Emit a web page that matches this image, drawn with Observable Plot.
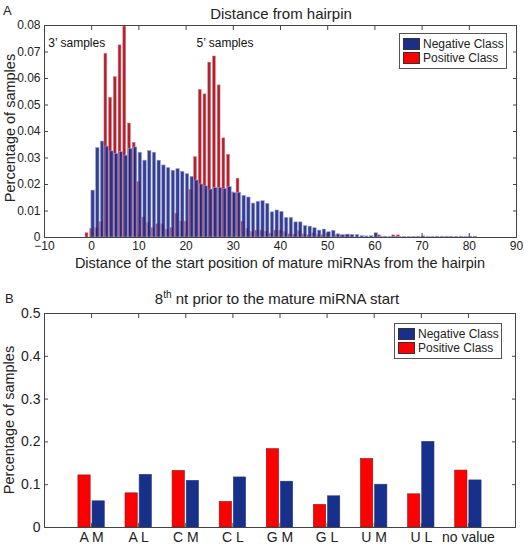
<!DOCTYPE html>
<html>
<head>
<meta charset="utf-8">
<script src="https://cdn.jsdelivr.net/npm/d3@7"></script>
<script src="https://cdn.jsdelivr.net/npm/@observablehq/plot@0.6"></script>
<style>
  body { margin: 0; background: #fff; font-family: "Liberation Sans", Arial, sans-serif; color: #222; }
  #root { position: relative; width: 524px; height: 545px; overflow: hidden; }
  .abs { position: absolute; white-space: nowrap; line-height: 1; }
  .legend { position: absolute; border: 1px solid #555; background: #fff; font-size: 12px; }
  .legend .row { position: absolute; left: 3px; height: 13px; display: flex; align-items: center; }
  .legend .sw { width: 17px; height: 12px; box-sizing: border-box; border: 1px solid #333; margin-right: 3px; }
  svg { position: absolute; left: 0; }
</style>
</head>
<body>
<div id="root"></div>
<script>
// ---------- Panel A data ----------
const posStart = -1; // first bin of the positive class
const posValues = [0.0016, 0.0033, 0.0035, 0.0058, 0.0693, 0.0527, 0.0605, 0.0725, 0.0796, 0.043,
  0.0357, 0.0209, 0.0075, 0.0055, 0.0035, 0.005, 0.005, 0.003, 0.0035, 0.009,
  0.006, 0.006, 0.018, 0.0303, 0.0557, 0.054, 0.066, 0.0683, 0.0574, 0.0374,
  0.0312, 0.017, 0.0222, 0.006, 0.0033, 0.002, 0.0026, 0.0026, 0.0022, 0.0015,
  0.0026, 0.0026, 0.002, 0.0012, 0.001, 0.0024, 0.0012, 0.0008, 0.0016, 0.0008,
  0.0008, 0.0016, 0, 0.0008, 0.0008, 0.0008, 0.0008, 0, 0, 0,
  0, 0, 0.0008, 0, 0, 0.0008, 0.0008];
const negStart = 0;
const negValues = [0.0177, 0.0337, 0.0362, 0.0343, 0.0325, 0.0316, 0.0322, 0.0309, 0.0335, 0.034,
  0.032, 0.029, 0.0326, 0.032, 0.029, 0.0272, 0.0262, 0.0252, 0.0258, 0.0248,
  0.0239, 0.0229, 0.0215, 0.02, 0.0193, 0.0181, 0.0187, 0.0187, 0.0184, 0.0191,
  0.0167, 0.0169, 0.0157, 0.0151, 0.0128, 0.0135, 0.0137, 0.0127, 0.0095, 0.0102,
  0.0097, 0.0074, 0.0074, 0.0057, 0.0057, 0.0043, 0.0041, 0.0035, 0.0026, 0.003,
  0.002, 0.0025, 0.0012, 0.0009, 0.0011, 0.001, 0.001, 0.0005, 0.0004, 0.0005,
  0.0016, 0.0003, 0.0003, 0.0002, 0.0003, 0.0002, 0.0002, 0.0002, 0.0002, 0.0003,
  0.0004, 0.0002, 0.0002, 0.0003, 0.0003, 0.0003, 0.0003, 0.0002, 0.0003, 0.0002,
  0.0003, 0.0003, 0];
const xTicksA = [-10, 0, 10, 20, 30, 40, 50, 60, 70, 80, 90];
const yTicksA = [0, 0.01, 0.02, 0.03, 0.04, 0.05, 0.06, 0.07, 0.08];
const annoText = ["3\u2019 samples", "5\u2019 samples"];
const annoX = [-9.2, 22.2];
const annoY = [0.0732, 0.0732];

// ---------- Panel B data ----------
const categories = ["A M", "A L", "C M", "C L", "G M", "G L", "U M", "U L", "no value"];
const posB = [0.1217, 0.0798, 0.132, 0.0597, 0.183, 0.0527, 0.160, 0.0775, 0.133];
const negB = [0.0612, 0.123, 0.109, 0.117, 0.107, 0.0729, 0.100, 0.200, 0.110];
const yTicksB = [0, 0.1, 0.2, 0.3, 0.4, 0.5];

const seriesNames = ["Negative Class", "Positive Class"];

// ---------- build tables ----------
const posA = posValues.map((v, i) => ({x: posStart + i, v}));
const negA = negValues.map((v, i) => ({x: negStart + i, v}));
const barsB = categories.flatMap((c, i) => [
  {pos: i + 1, cls: "pos", v: posB[i]},
  {pos: i + 1, cls: "neg", v: negB[i]}
]);

const root = document.getElementById("root");
const font = "'Liberation Sans', Arial, sans-serif";
const axisColor = "#444";

function fmtA(d) { return d === 0 ? "0" : d.toFixed(2); }
function fmtB(d) { return d === 0 ? "0" : d.toFixed(1); }

// ---------- Panel A ----------
const plotA = Plot.plot({
  width: 524, height: 270,
  marginLeft: 44, marginRight: 8, marginTop: 25, marginBottom: 33,
  x: {domain: [-10, 90]},
  y: {domain: [0, 0.08]},
  style: {fontFamily: font, fontSize: "12px", color: "#222", background: "transparent", overflow: "visible"},
  marks: [
    Plot.rectY(posA, {x1: d => d.x - 0.3, x2: d => d.x + 0.3, y1: 0, y2: "v",
      fill: "#b3202d", stroke: "#dc7580", strokeWidth: 0.5}),
    Plot.rectY(negA, {x1: d => d.x - 0.06, x2: d => d.x + 0.66, y1: 0, y2: "v",
      fill: "#1a237f", fillOpacity: 0.88, stroke: "#9aa4dc", strokeWidth: 0.6}),
    Plot.frame({stroke: axisColor}),
    Plot.axisX({ticks: xTicksA, tickSize: -4, tickPadding: 8, label: null, stroke: axisColor}),
    Plot.axisX({anchor: "top", ticks: xTicksA, tickSize: -4, tickFormat: () => "", label: null, stroke: axisColor}),
    Plot.axisY({ticks: yTicksA, tickSize: -4, tickPadding: 8, tickFormat: fmtA, label: null, stroke: axisColor}),
    Plot.axisY({anchor: "right", ticks: yTicksA, tickSize: -4, tickFormat: () => "", label: null, stroke: axisColor}),
    Plot.text(annoText.map((t, i) => ({t, x: annoX[i], y: annoY[i]})),
      {x: "x", y: "y", text: "t", textAnchor: "start", fontSize: 12, fill: "#111"})
  ]
});
plotA.style.top = "0px";
root.appendChild(plotA);

// ---------- Panel B ----------
const plotB = Plot.plot({
  width: 524, height: 255,
  marginLeft: 44, marginRight: 9, marginTop: 23, marginBottom: 18,
  x: {domain: [0, 10]},
  y: {domain: [0, 0.5]},
  style: {fontFamily: font, fontSize: "14px", color: "#222", background: "transparent", overflow: "visible"},
  marks: [
    Plot.rectY(barsB, {
      x1: d => d.cls === "pos" ? d.pos - 0.28 : d.pos + 0.02,
      x2: d => d.cls === "pos" ? d.pos - 0.02 : d.pos + 0.28,
      y1: 0, y2: "v",
      fill: d => d.cls === "pos" ? "#ff0000" : "#16308c",
      stroke: d => d.cls === "pos" ? "#8a1010" : "#2a3a70",
      strokeWidth: 0.6
    }),
    Plot.frame({stroke: axisColor}),
    Plot.axisX({ticks: categories.map((c, i) => i + 1), tickSize: -4, tickPadding: 9,
      tickFormat: d => categories[d - 1], label: null, stroke: axisColor}),
    Plot.axisX({anchor: "top", ticks: categories.map((c, i) => i + 1), tickSize: -4, tickFormat: () => "", label: null, stroke: axisColor}),
    Plot.axisY({ticks: yTicksB, tickSize: -4, tickPadding: 8, tickFormat: fmtB, label: null, stroke: axisColor}),
    Plot.axisY({anchor: "right", ticks: yTicksB, tickSize: -4, tickFormat: () => "", label: null, stroke: axisColor})
  ]
});
plotB.style.top = "290px";
root.appendChild(plotB);

// ---------- texts ----------
function addText(html, css) {
  const d = document.createElement("div");
  d.className = "abs";
  d.innerHTML = html;
  Object.assign(d.style, css);
  root.appendChild(d);
  return d;
}
addText("A", {left: "3px", top: "4px", fontSize: "13px"});
addText("B", {left: "5px", top: "292px", fontSize: "13px"});
addText("Distance from hairpin", {left: "281px", top: "13px", fontSize: "15px", transform: "translate(-50%,-50%)"});
addText("8<sup style='font-size:10px;vertical-align:6px;line-height:0'>th</sup> nt prior to the mature miRNA start",
  {left: "277px", top: "298px", fontSize: "15px", transform: "translate(-50%,-50%)"});
addText("Distance of the start position of mature miRNAs from the hairpin",
  {left: "280px", top: "263px", fontSize: "14.5px", transform: "translate(-50%,-50%)"});
addText("Percentage of samples", {left: "10px", top: "128px", fontSize: "14.5px", transform: "translate(-50%,-50%) rotate(-90deg)"});
addText("Percentage of samples", {left: "9px", top: "420px", fontSize: "14.5px", transform: "translate(-50%,-50%) rotate(-90deg)"});

// ---------- legends ----------
const legendColors = ["#1a2e8c", "#ff0000"];
function addLegend(left, top, w, h) {
  const box = document.createElement("div");
  box.className = "legend";
  Object.assign(box.style, {left: left + "px", top: top + "px", width: w + "px", height: h + "px"});
  seriesNames.forEach((name, i) => {
    const row = document.createElement("div");
    row.className = "row";
    row.style.top = (3 + i * 14) + "px";
    const sw = document.createElement("div");
    sw.className = "sw";
    sw.style.background = legendColors[i];
    row.appendChild(sw);
    const t = document.createElement("span");
    t.textContent = name;
    row.appendChild(t);
    box.appendChild(row);
  });
  root.appendChild(box);
}
addLegend(399, 33, 106, 34);
addLegend(394, 323, 106, 34);
</script>
</body>
</html>
